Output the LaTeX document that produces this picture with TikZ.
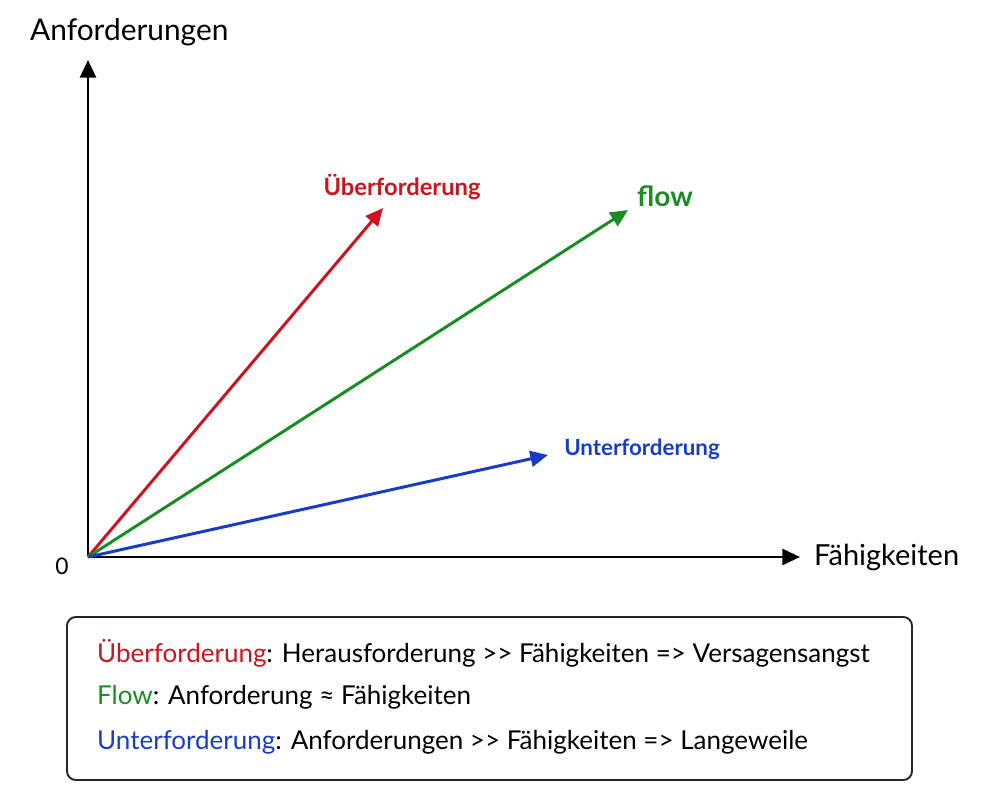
\documentclass[tikz,border=0pt]{standalone}
\usepackage{fontspec}
\setmainfont{Lato}[Ligatures=TeXOff]
\usepackage{tikz}
\usetikzlibrary{arrows.meta,calc}
\definecolor{ueberred}{RGB}{205,20,30}
\definecolor{flowgreen}{RGB}{25,140,35}
\definecolor{unterblue}{RGB}{25,60,200}

\begin{document}
\begin{tikzpicture}[x=0.02cm, y=-0.02cm, >={Triangle[length=10pt,width=9pt]}]
    \useasboundingbox (0,0) rectangle (1000,800);

    % the axes
    \coordinate (O) at (88,557);
    \coordinate (ytip) at (88,60);
    \coordinate (xtip) at (800,557);
    \draw[->, line width=1.7pt] (O) -- (ytip);
    \draw[->, line width=1.7pt] (O) -- (xtip);
    \node[font=\fontsize{17}{20}\selectfont, anchor=west] (ylab) at (24,32) {Anforderungen};
    \node[font=\fontsize{16.5}{20}\selectfont, anchor=west] (xlab) at (808,557) {Fähigkeiten};
    \node[font=\fontsize{13}{16}\selectfont] (null) at (62,566) {0};

    % the arrow ends
    \coordinate (ueber) at (383,208);
    \coordinate (flow) at (628,210);
    \coordinate (unter) at (548,455);

    % draw the arrows
    \draw[->, line width=1.7pt, ueberred] (O) -- (ueber);
    \draw[->, line width=1.7pt, flowgreen] (O) -- (flow);
    \draw[->, line width=1.7pt, unterblue] (O) -- (unter);
    \node[font=\bfseries\fontsize{13.5}{16}\selectfont, text=ueberred] (ueberlab) at (402,187) {Überforderung};
    \node[font=\bfseries\fontsize{16}{19}\selectfont, text=flowgreen] (flowlab) at (665,196) {flow};
    \node[font=\bfseries\fontsize{12.7}{15}\selectfont, text=unterblue] (unterlab) at (642,449) {Unterforderung};

    % the legend
    \draw[rounded corners=5pt, line width=1.1pt, black!85] (67,617) rectangle (912,780);
    \node[font=\fontsize{14.8}{17}\selectfont, anchor=west] (leg1) at (91,653)
        {\textcolor{ueberred}{Überforderung}: Herausforderung >> Fähigkeiten => Versagensangst};
    \node[font=\fontsize{14.8}{17}\selectfont, anchor=west] (leg2) at (91,697)
        {\textcolor{flowgreen}{Flow}: Anforderung ≈ Fähigkeiten};
    \node[font=\fontsize{14.8}{17}\selectfont, anchor=west] (leg3) at (91,742)
        {\textcolor{unterblue}{Unterforderung}: Anforderungen >> Fähigkeiten => Langeweile};
\end{tikzpicture}
\end{document}
